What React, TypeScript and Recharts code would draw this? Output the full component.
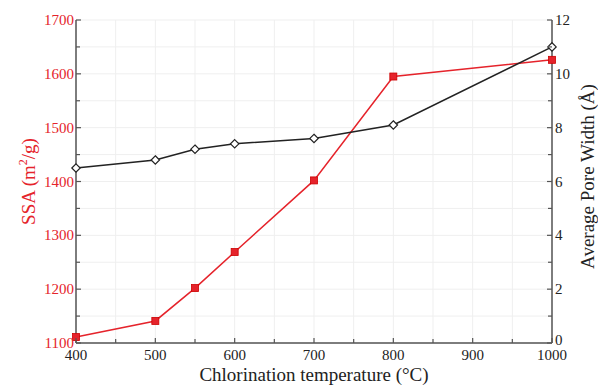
import React from "react";
import {
  LineChart,
  Line,
  XAxis,
  YAxis,
  CartesianGrid,
} from "recharts";

const temperatures = [400, 500, 550, 600, 700, 800, 1000];
const ssaValues = [1111, 1141, 1202, 1269, 1402, 1595, 1626];
const poreWidths = [6.5, 6.8, 7.2, 7.4, 7.6, 8.1, 11.0];

const xTicks = [400, 450, 500, 550, 600, 650, 700, 750, 800, 850, 900, 950, 1000];
const leftTicks = [1100, 1150, 1200, 1250, 1300, 1350, 1400, 1450, 1500, 1550, 1600, 1650, 1700];
const rightTicks = [0, 1, 2, 3, 4, 5, 6, 7, 8, 9, 10, 11, 12];

const data = temperatures.map((t, i) => ({
  t,
  ssa: ssaValues[i],
  pore: poreWidths[i],
}));

const RED = "#e5232b";
const FRAME = "#555";
const FONT = "'Liberation Serif', 'Times New Roman', serif";
const textStyle = { fontFamily: FONT };

const BottomTick = (props: any) => {
  const { x, y, payload } = props;
  const v = payload.value;
  const major = v % 100 === 0;
  return (
    <g>
      <line x1={x} y1={y} x2={x} y2={y - (major ? 5 : 4)} stroke={FRAME} strokeWidth={1.2} />
      {major && (
        <text x={x} y={y + 17} textAnchor="middle" style={textStyle} fontSize={15} fill="#222">
          {v}
        </text>
      )}
    </g>
  );
};

const TopTick = (props: any) => {
  const { x, y } = props;
  return <line x1={x} y1={y} x2={x} y2={y + 4} stroke={FRAME} strokeWidth={1.2} />;
};

const LeftTick = (props: any) => {
  const { x, y, payload } = props;
  const v = payload.value;
  const major = v % 100 === 0;
  return (
    <g>
      <line x1={x} y1={y} x2={x + (major ? 5 : 4)} y2={y} stroke={FRAME} strokeWidth={1.2} />
      {major && (
        <text x={x - 2} y={y + 5} textAnchor="end" style={textStyle} fontSize={15} fill={RED}>
          {v}
        </text>
      )}
    </g>
  );
};

const RightTick = (props: any) => {
  const { x, y, payload } = props;
  const v = payload.value;
  const major = v % 2 === 0;
  return (
    <g>
      <line x1={x} y1={y} x2={x - (major ? 5 : 4)} y2={y} stroke={FRAME} strokeWidth={1.2} />
      {major && (
        <text x={x + 3} y={y + (v === 0 ? 2 : 5)} textAnchor="start" style={textStyle} fontSize={15} fill="#222">
          {v}
        </text>
      )}
    </g>
  );
};

const SquareDot = (props: any) => {
  const { cx, cy } = props;
  if (cx == null || cy == null) return null;
  return <rect x={cx - 3.5} y={cy - 3.5} width={7} height={7} fill={RED} stroke="#c00" strokeWidth={0.8} />;
};

const DiamondDot = (props: any) => {
  const { cx, cy } = props;
  if (cx == null || cy == null) return null;
  const r = 4.2;
  return (
    <polygon
      points={`${cx},${cy - r} ${cx + r},${cy} ${cx},${cy + r} ${cx - r},${cy}`}
      fill="#fff"
      stroke="#222"
      strokeWidth={1.2}
    />
  );
};

const XLabel = (props: any) => {
  const vb = props.viewBox || {};
  const cx = (vb.x ?? 76) + (vb.width ?? 476) / 2;
  const by = (vb.y ?? 343) + 38;
  return (
    <text x={cx} y={by} textAnchor="middle" style={textStyle} fontSize={19} fill="#222">
      Chlorination temperature (°C)
    </text>
  );
};

const LeftLabel = (props: any) => {
  const vb = props.viewBox || {};
  const cy = (vb.y ?? 20) + (vb.height ?? 323) / 2;
  const bx = 35;
  return (
    <text
      x={bx}
      y={cy}
      transform={`rotate(-90 ${bx} ${cy})`}
      textAnchor="middle"
      style={textStyle}
      fontSize={19}
      fill={RED}
    >
      <tspan>SSA (m</tspan>
      <tspan fontSize={12} dy={-8}>2</tspan>
      <tspan dy={8}>/g)</tspan>
    </text>
  );
};

const RightLabel = (props: any) => {
  const vb = props.viewBox || {};
  const cy = (vb.y ?? 20) + (vb.height ?? 323) / 2 - 5;
  const bx = 594;
  return (
    <text
      x={bx}
      y={cy}
      transform={`rotate(-90 ${bx} ${cy})`}
      textAnchor="middle"
      style={textStyle}
      fontSize={19}
      fill="#222"
    >
      Average Pore Width (Å)
    </text>
  );
};

export default function App() {
  return (
    <div style={{ position: "absolute", left: 0, top: 0, width: 598, height: 385, background: "#fff" }}>
      <LineChart
        width={598}
        height={385}
        data={data}
        margin={{ top: 20, right: 0, bottom: 0, left: 0 }}
      >
        <CartesianGrid
          xAxisId="bottom"
          yAxisId="left"
          stroke="#efefef"
          strokeWidth={1}
          verticalValues={xTicks}
          horizontalValues={leftTicks}
        />
        <XAxis
          xAxisId="bottom"
          dataKey="t"
          type="number"
          domain={[400, 1000]}
          ticks={xTicks}
          interval={0}
          height={42}
          tickSize={0}
          tickMargin={0}
          tickLine={false}
          axisLine={{ stroke: FRAME, strokeWidth: 1.5 }}
          tick={<BottomTick />}
          label={{ content: <XLabel /> }}
        />
        <XAxis
          xAxisId="top"
          orientation="top"
          dataKey="t"
          type="number"
          domain={[400, 1000]}
          ticks={xTicks}
          interval={0}
          height={0}
          tickSize={0}
          tickMargin={0}
          tickLine={false}
          axisLine={{ stroke: FRAME, strokeWidth: 1.5 }}
          tick={<TopTick />}
        />
        <YAxis
          yAxisId="left"
          type="number"
          domain={[1100, 1700]}
          ticks={leftTicks}
          interval={0}
          width={76}
          tickSize={0}
          tickMargin={0}
          tickLine={false}
          axisLine={{ stroke: FRAME, strokeWidth: 1.5 }}
          tick={<LeftTick />}
          label={{ content: <LeftLabel /> }}
        />
        <YAxis
          yAxisId="right"
          orientation="right"
          type="number"
          domain={[0, 12]}
          ticks={rightTicks}
          interval={0}
          width={46}
          tickSize={0}
          tickMargin={0}
          tickLine={false}
          axisLine={{ stroke: FRAME, strokeWidth: 1.5 }}
          tick={<RightTick />}
          label={{ content: <RightLabel /> }}
        />
        <Line
          xAxisId="bottom"
          yAxisId="left"
          dataKey="ssa"
          stroke={RED}
          strokeWidth={1.5}
          dot={<SquareDot />}
          isAnimationActive={false}
          type="linear"
        />
        <Line
          xAxisId="bottom"
          yAxisId="right"
          dataKey="pore"
          stroke="#222"
          strokeWidth={1.5}
          dot={<DiamondDot />}
          isAnimationActive={false}
          type="linear"
        />
      </LineChart>
    </div>
  );
}
